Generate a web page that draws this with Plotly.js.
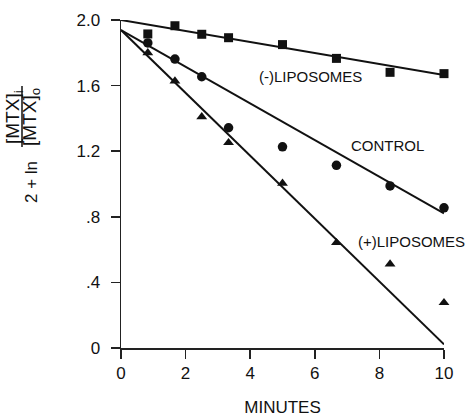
<!DOCTYPE html>
<html>
<head>
<meta charset="utf-8">
<script src="https://cdn.plot.ly/plotly-3.0.1.min.js"></script>
<style>html,body{margin:0;padding:0;background:#fff;}#chart{width:471px;height:417px;}</style>
</head>
<body>
<div id="chart"></div>
<script>
// Time points (minutes)
const minutes = [0.83, 1.67, 2.5, 3.33, 5, 6.67, 8.33, 10];
// Series values: 2 + ln([MTX]i/[MTX]o)
const minusLiposomes = [1.915, 1.965, 1.913, 1.892, 1.85, 1.766, 1.681, 1.673];
const control        = [1.86, 1.762, 1.654, 1.343, 1.227, 1.114, 0.988, 0.855];
const plusLiposomes  = [1.80, 1.628, 1.41, 1.252, 1.004, 0.642, 0.512, 0.276];
// Fitted lines (endpoints at 0 and 10 min)
const fitX = [0, 10];
const fitMinus = [2.0, 1.665];
const fitControl = [1.939, 0.821];
const fitPlus = [1.939, 0.022];
// Tick labels
const xTickVals = [0, 2, 4, 6, 8, 10];
const xTickText = ["0", "2", "4", "6", "8", "10"];
const yTickVals = [0, 0.4, 0.8, 1.2, 1.6, 2.0];
const yTickText = ["0", ".4", ".8", "1.2", "1.6", "2.0"];

const ink = '#111';
const font = 'Liberation Sans, Arial, sans-serif';

function line(y) {
  return {x: fitX, y: y, mode: 'lines', line: {color: ink, width: 2}, hoverinfo: 'skip', cliponaxis: false};
}
function pts(y, sym, size) {
  return {x: minutes, y: y, mode: 'markers', cliponaxis: false,
          marker: {symbol: sym, size: size, color: ink, line: {width: 0}}};
}

const data = [
  line(fitMinus), line(fitControl), line(fitPlus),
  pts(minusLiposomes, 'square', 9),
  pts(control, 'circle', 9.5),
  pts(plusLiposomes, 'triangle-up', 9.5)
];

const W = 323, H = 328, L = 121, T = 20;
function px(xp) { return (xp - L) / W; }
function py(yp) { return (T + H - yp) / H; }

function yt(xp, yp, text, size) {
  return {xref: 'paper', yref: 'paper', x: px(xp), y: py(yp), text: text, textangle: -90,
          xanchor: 'center', yanchor: 'middle', showarrow: false,
          font: {size: size, family: font, color: ink}};
}

const layout = {
  width: 471, height: 417,
  margin: {l: 121, r: 27, t: 20, b: 69},
  paper_bgcolor: '#fff', plot_bgcolor: '#fff',
  showlegend: false,
  font: {family: font, color: ink, size: 17},
  xaxis: {
    range: [0, 10], tickvals: xTickVals, ticktext: xTickText,
    showgrid: false, zeroline: false, showline: true, linecolor: '#222', linewidth: 1.5,
    ticks: 'outside', ticklen: 9, tickwidth: 1.5, tickcolor: '#222',
    tickfont: {size: 17, family: font, color: ink},
    title: {text: 'MINUTES', font: {size: 17, family: font, color: ink}, standoff: 23}
  },
  yaxis: {
    range: [0, 2.0], tickvals: yTickVals, ticktext: yTickText,
    showgrid: false, zeroline: false, showline: true, linecolor: '#222', linewidth: 1.5,
    ticks: 'outside', ticklen: 9, tickwidth: 1.5, tickcolor: '#222',
    tickfont: {size: 17, family: font, color: ink}, ticklabelstandoff: 7
  },
  annotations: [
    {xref: 'x', yref: 'y', x: 4.2, y: 1.655, text: '(-)LIPOSOMES', showarrow: false, xanchor: 'left', font: {size: 15, family: font, color: ink}},
    {xref: 'x', yref: 'y', x: 7.05, y: 1.233, text: 'CONTROL', showarrow: false, xanchor: 'left', font: {size: 15, family: font, color: ink}},
    {xref: 'x', yref: 'y', x: 7.27, y: 0.648, text: '(+)LIPOSOMES', showarrow: false, xanchor: 'left', font: {size: 15, family: font, color: ink}},
    yt(31, 182, '2 + ln', 17),
    yt(14, 117, '[MTX]<sub>i</sub>', 19),
    yt(31, 117, '[MTX]<sub>o</sub>', 19)
  ],
  shapes: [
    {type: 'line', xref: 'paper', yref: 'paper', x0: px(22), x1: px(22), y0: py(147), y1: py(86), line: {color: ink, width: 1.5}}
  ]
};

Plotly.newPlot('chart', data, layout, {displayModeBar: false, staticPlot: true});
</script>
</body>
</html>
